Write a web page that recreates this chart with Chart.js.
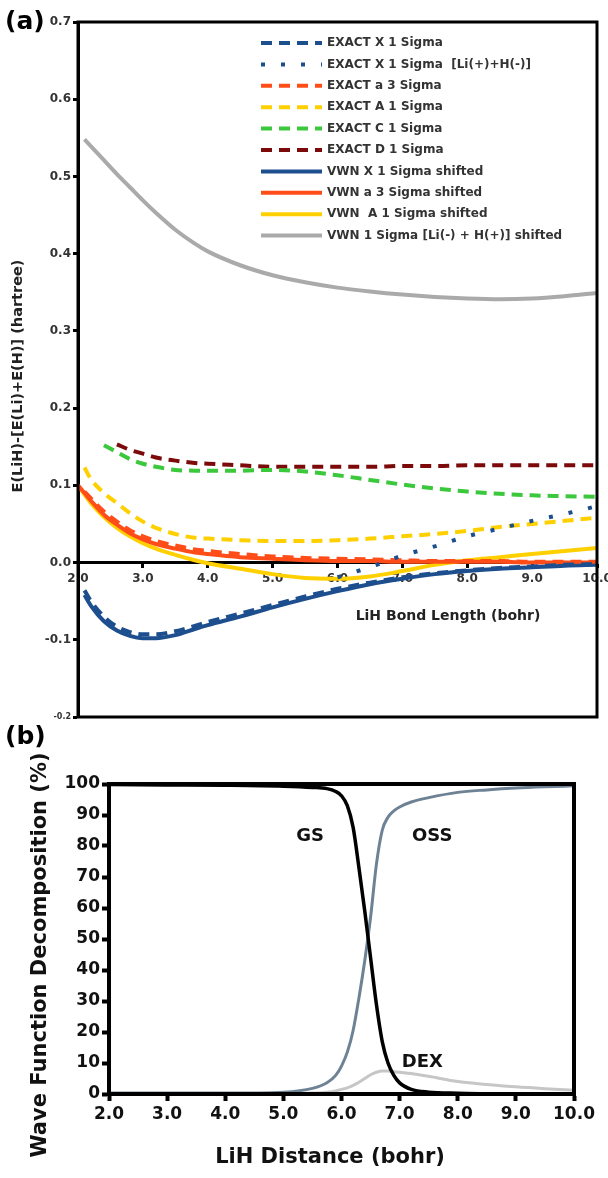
<!DOCTYPE html>
<html>
<head>
<meta charset="utf-8">
<script src="https://cdn.jsdelivr.net/npm/chart.js@4.4.0/dist/chart.umd.min.js"></script>
<style>
  body { margin: 0; background: #fff; width: 608px; height: 1178px; position: relative; overflow: hidden; }
  .box { position: absolute; left: 0; width: 608px; }
  .tag { position: absolute; left: 5px; font: bold 25px "DejaVu Sans", sans-serif; line-height: 1; color: #000; }
</style>
</head>
<body>
<div class="box" style="top:0;height:725px"><canvas id="chartA" width="608" height="725"></canvas></div>
<div class="box" style="top:725px;height:453px"><canvas id="chartB" width="608" height="453"></canvas></div>
<div class="tag" style="top:8px">(a)</div>
<div class="tag" style="top:723px">(b)</div>
<script>
Chart.defaults.font.family = '"DejaVu Sans", sans-serif';

// ---- panel (a): energies (hartree) vs bond length (bohr)
const xA = [2.0, 2.1, 2.2, 2.4, 2.6, 2.8, 3.0, 3.2, 3.5, 3.8, 4.0, 4.5, 5.0, 5.5, 6.0, 6.5, 7.0, 7.5, 8.0, 8.5, 9.0, 9.5, 10.0];
const exactX1 = [null, -0.036, -0.050, -0.070, -0.083, -0.090, -0.093, -0.093, -0.089, -0.082, -0.077, -0.066, -0.055, -0.044, -0.034, -0.026, -0.019, -0.014, -0.010, -0.007, -0.005, -0.003, -0.002];
const exactX1ion = [null, null, null, null, null, null, null, null, null, null, null, null, null, null, -0.019, -0.006, 0.009, 0.021, 0.034, 0.044, 0.054, 0.063, 0.073];
const exactA3 = [null, 0.092, 0.083, 0.066, 0.053, 0.042, 0.034, 0.028, 0.022, 0.017, 0.015, 0.011, 0.008, 0.006, 0.005, 0.004, 0.003, 0.002, 0.002, 0.002, 0.001, 0.001, 0.001];
const exactA1 = [null, 0.123, 0.108, 0.090, 0.077, 0.064, 0.053, 0.045, 0.037, 0.032, 0.031, 0.029, 0.028, 0.028, 0.029, 0.031, 0.034, 0.037, 0.041, 0.046, 0.050, 0.054, 0.058];
const exactC1 = [null, null, null, 0.152, 0.143, 0.134, 0.128, 0.124, 0.120, 0.119, 0.119, 0.119, 0.120, 0.118, 0.113, 0.107, 0.101, 0.096, 0.092, 0.089, 0.087, 0.086, 0.085];
const exactD1 = [null, null, null, null, 0.153, 0.146, 0.141, 0.136, 0.132, 0.129, 0.128, 0.126, 0.124, 0.124, 0.124, 0.124, 0.125, 0.125, 0.126, 0.126, 0.126, 0.126, 0.126];
const vwnX1 = [null, -0.042, -0.056, -0.076, -0.088, -0.095, -0.098, -0.098, -0.094, -0.086, -0.081, -0.070, -0.058, -0.047, -0.037, -0.028, -0.021, -0.015, -0.011, -0.008, -0.006, -0.004, -0.003];
const vwnA3 = [0.100, 0.090, 0.080, 0.062, 0.049, 0.038, 0.030, 0.024, 0.018, 0.013, 0.011, 0.007, 0.005, 0.003, 0.002, 0.002, 0.001, 0.001, 0.001, 0.001, 0.000, 0.000, 0.000];
const vwnA1 = [0.100, 0.088, 0.077, 0.059, 0.045, 0.034, 0.025, 0.018, 0.010, 0.003, -0.001, -0.008, -0.015, -0.020, -0.021, -0.018, -0.011, -0.003, 0.003, 0.007, 0.011, 0.015, 0.019];
const vwnIon = [null, 0.548, 0.539, 0.521, 0.503, 0.486, 0.469, 0.453, 0.431, 0.413, 0.403, 0.385, 0.372, 0.363, 0.356, 0.351, 0.347, 0.344, 0.342, 0.341, 0.342, 0.345, 0.349];

// ---- panel (b): wave function decomposition (%) vs distance (bohr)
const xB = [2.0, 3.0, 4.0, 5.0, 5.5, 5.75, 5.9, 6.0, 6.1, 6.2, 6.3, 6.4, 6.5, 6.6, 6.7, 6.8, 6.9, 7.0, 7.2, 7.5, 8.0, 8.5, 9.0, 9.5, 10.0];
const gs = [99.8, 99.7, 99.6, 99.3, 98.9, 98.5, 97.6, 96.2, 93, 86, 73, 59, 44, 29, 17, 10, 6, 3.6, 1.5, 0.6, 0.25, 0.1, 0.1, 0.1, 0.1];
const oss = [0.3, 0.3, 0.3, 0.6, 1.8, 3.6, 6, 9, 13.5, 20.5, 31, 43, 57, 74, 85, 89.3, 91.3, 92.6, 94.2, 95.6, 97.3, 98.1, 98.7, 99.1, 99.4];
const dex = [0, 0, 0, 0.1, 0.3, 0.6, 1.0, 1.5, 2.0, 2.8, 3.8, 5.0, 6.2, 7.0, 7.4, 7.4, 7.2, 7.0, 6.6, 5.7, 4.0, 3.1, 2.3, 1.7, 1.2];

const curveNames = ['GS', 'OSS', 'DEX'];
const nameX = [5.46, 7.56, 7.39];
const nameY = [83.2, 83.2, 10.3];

function pts(xs, ys) {
  return xs.map((x, i) => ({ x: x, y: ys[i] }));
}

function line(label, xs, ys, color, dash, width) {
  return {
    label: label,
    data: pts(xs, ys),
    borderColor: color,
    backgroundColor: color,
    borderDash: dash,
    borderWidth: width,
    borderCapStyle: 'butt',
    pointRadius: 0,
    fill: false,
    cubicInterpolationMode: 'monotone'
  };
}

function fmt1(v) {
  return (Math.abs(v) < 1e-9 ? 0 : v).toFixed(1);
}

const BLUE = '#1d4e8e', ORANGE = '#ff4d1a', GOLD = '#ffd000', GREEN = '#3cc83c', DRED = '#7d0a0a', GREY = '#aaaaaa';
const DASH = [11, 7], DOT = [4, 16];

// frame, free text and (for panel a) the legend
const notes = {
  id: 'notes',
  afterDraw(chart, args, opts) {
    const ctx = chart.ctx, a = chart.chartArea;
    ctx.save();
    ctx.strokeStyle = '#000';
    ctx.lineWidth = opts.frame;
    ctx.setLineDash([]);
    ctx.strokeRect(a.left, a.top, a.right - a.left, a.bottom - a.top);

    if (opts.legend) {
      const L = opts.legend;
      chart.data.datasets.forEach((ds, i) => {
        const y = L.y + i * L.step;
        ctx.beginPath();
        ctx.strokeStyle = ds.borderColor;
        ctx.lineWidth = 4;
        ctx.lineCap = 'butt';
        ctx.setLineDash(ds.borderDash || []);
        ctx.moveTo(L.x, y);
        ctx.lineTo(L.x + L.w, y);
        ctx.stroke();
        ctx.setLineDash([]);
        ctx.fillStyle = '#333';
        ctx.font = 'bold 12px "DejaVu Sans"';
        ctx.textAlign = 'left';
        ctx.textBaseline = 'middle';
        ctx.fillText(ds.label, L.x + L.w + 5, y);
      });
    }

    (opts.texts || []).forEach(t => {
      let x = t.x, y = t.y;
      if (t.data) {
        x = chart.scales.x.getPixelForValue(t.x);
        y = chart.scales.y.getPixelForValue(t.y);
      }
      ctx.save();
      ctx.translate(x, y);
      if (t.rot) ctx.rotate(t.rot);
      ctx.fillStyle = t.color || '#222';
      ctx.font = t.font;
      ctx.textAlign = 'center';
      ctx.textBaseline = 'middle';
      ctx.fillText(t.text, 0, 0);
      ctx.restore();
    });
    ctx.restore();
  }
};

new Chart(document.getElementById('chartA'), {
  type: 'line',
  data: {
    datasets: [
      line('EXACT X 1 Sigma', xA, exactX1, BLUE, DASH, 4),
      line('EXACT X 1 Sigma  [Li(+)+H(-)]', xA, exactX1ion, BLUE, DOT, 4),
      line('EXACT a 3 Sigma', xA, exactA3, ORANGE, DASH, 4),
      line('EXACT A 1 Sigma', xA, exactA1, GOLD, DASH, 4),
      line('EXACT C 1 Sigma', xA, exactC1, GREEN, DASH, 4),
      line('EXACT D 1 Sigma', xA, exactD1, DRED, DASH, 4),
      line('VWN X 1 Sigma shifted', xA, vwnX1, BLUE, [], 4),
      line('VWN a 3 Sigma shifted', xA, vwnA3, ORANGE, [], 4),
      line('VWN  A 1 Sigma shifted', xA, vwnA1, GOLD, [], 4),
      line('VWN 1 Sigma [Li(-) + H(+)] shifted', xA, vwnIon, GREY, [], 4)
    ]
  },
  options: {
    responsive: false,
    animation: false,
    devicePixelRatio: 1,
    layout: { padding: { left: 0, top: 22, right: 11, bottom: 8 } },
    plugins: {
      legend: { display: false },
      tooltip: { enabled: false },
      notes: {
        frame: 3,
        legend: { x: 261, y: 43, step: 21.4, w: 61 },
        texts: [
          { text: 'E(LiH)-[E(Li)+E(H)] (hartree)', x: 18, y: 376, rot: -Math.PI / 2, font: 'bold 14.5px "DejaVu Sans"' },
          { text: 'LiH Bond Length (bohr)', x: 448, y: 616, font: 'bold 14px "DejaVu Sans"' }
        ]
      }
    },
    scales: {
      x: {
        type: 'linear', min: 2, max: 10,
        position: { y: 0 },
        afterFit: s => { s.height = 0; s.paddingLeft = 0; s.paddingRight = 0; },
        ticks: {
          stepSize: 1, autoSkip: false, maxRotation: 0, padding: 5, color: '#333',
          font: { weight: 'bold', size: 12 },
          callback: fmt1
        },
        grid: { drawOnChartArea: false, tickLength: 4, tickWidth: 3, tickColor: '#000' },
        border: { color: '#000', width: 3 }
      },
      y: {
        min: -0.2, max: 0.7,
        afterFit: s => { s.width = 78; },
        ticks: {
          stepSize: 0.1, padding: 2, color: '#333',
          font: c => ({ weight: 'bold', size: (c.tick && c.tick.value < -0.15) ? 8 : 12 }),
          callback: fmt1
        },
        grid: { drawOnChartArea: false, tickLength: 5, tickWidth: 3, tickColor: '#000' },
        border: { color: '#000', width: 3 }
      }
    }
  },
  plugins: [notes]
});

new Chart(document.getElementById('chartB'), {
  type: 'line',
  data: {
    datasets: [
      line('GS', xB, gs, '#000000', [], 3.5),
      line('OSS', xB, oss, '#6e8296', [], 3),
      line('DEX', xB, dex, '#c6c6c6', [], 3)
    ]
  },
  options: {
    responsive: false,
    animation: false,
    devicePixelRatio: 1,
    layout: { padding: { left: 0, top: 59, right: 34, bottom: 0 } },
    plugins: {
      legend: { display: false },
      tooltip: { enabled: false },
      notes: {
        frame: 4,
        texts: curveNames.map((n, i) => ({ text: n, x: nameX[i], y: nameY[i], data: true, color: '#111', font: 'bold 18px "DejaVu Sans"' })).concat([
          { text: 'Wave Function Decomposition (%)', x: 41, y: 230, rot: -Math.PI / 2, color: '#111', font: 'bold 21px "DejaVu Sans"' },
          { text: 'LiH Distance (bohr)', x: 330, y: 433, color: '#111', font: 'bold 21px "DejaVu Sans"' }
        ])
      }
    },
    scales: {
      x: {
        type: 'linear', min: 2, max: 10,
        afterFit: s => { s.height = 84; s.paddingLeft = 0; s.paddingRight = 0; },
        ticks: {
          stepSize: 1, autoSkip: false, maxRotation: 0, padding: 3, color: '#111',
          font: { weight: 'bold', size: 17 },
          callback: fmt1
        },
        grid: { drawOnChartArea: false, tickLength: 7, tickWidth: 4, tickColor: '#000' },
        border: { color: '#000', width: 4 }
      },
      y: {
        min: 0, max: 100,
        afterFit: s => { s.width = 109; },
        ticks: {
          stepSize: 10, padding: 2, color: '#111',
          font: { weight: 'bold', size: 17 }
        },
        grid: { drawOnChartArea: false, tickLength: 7, tickWidth: 4, tickColor: '#000' },
        border: { color: '#000', width: 4 }
      }
    }
  },
  plugins: [notes]
});
</script>
</body>
</html>
